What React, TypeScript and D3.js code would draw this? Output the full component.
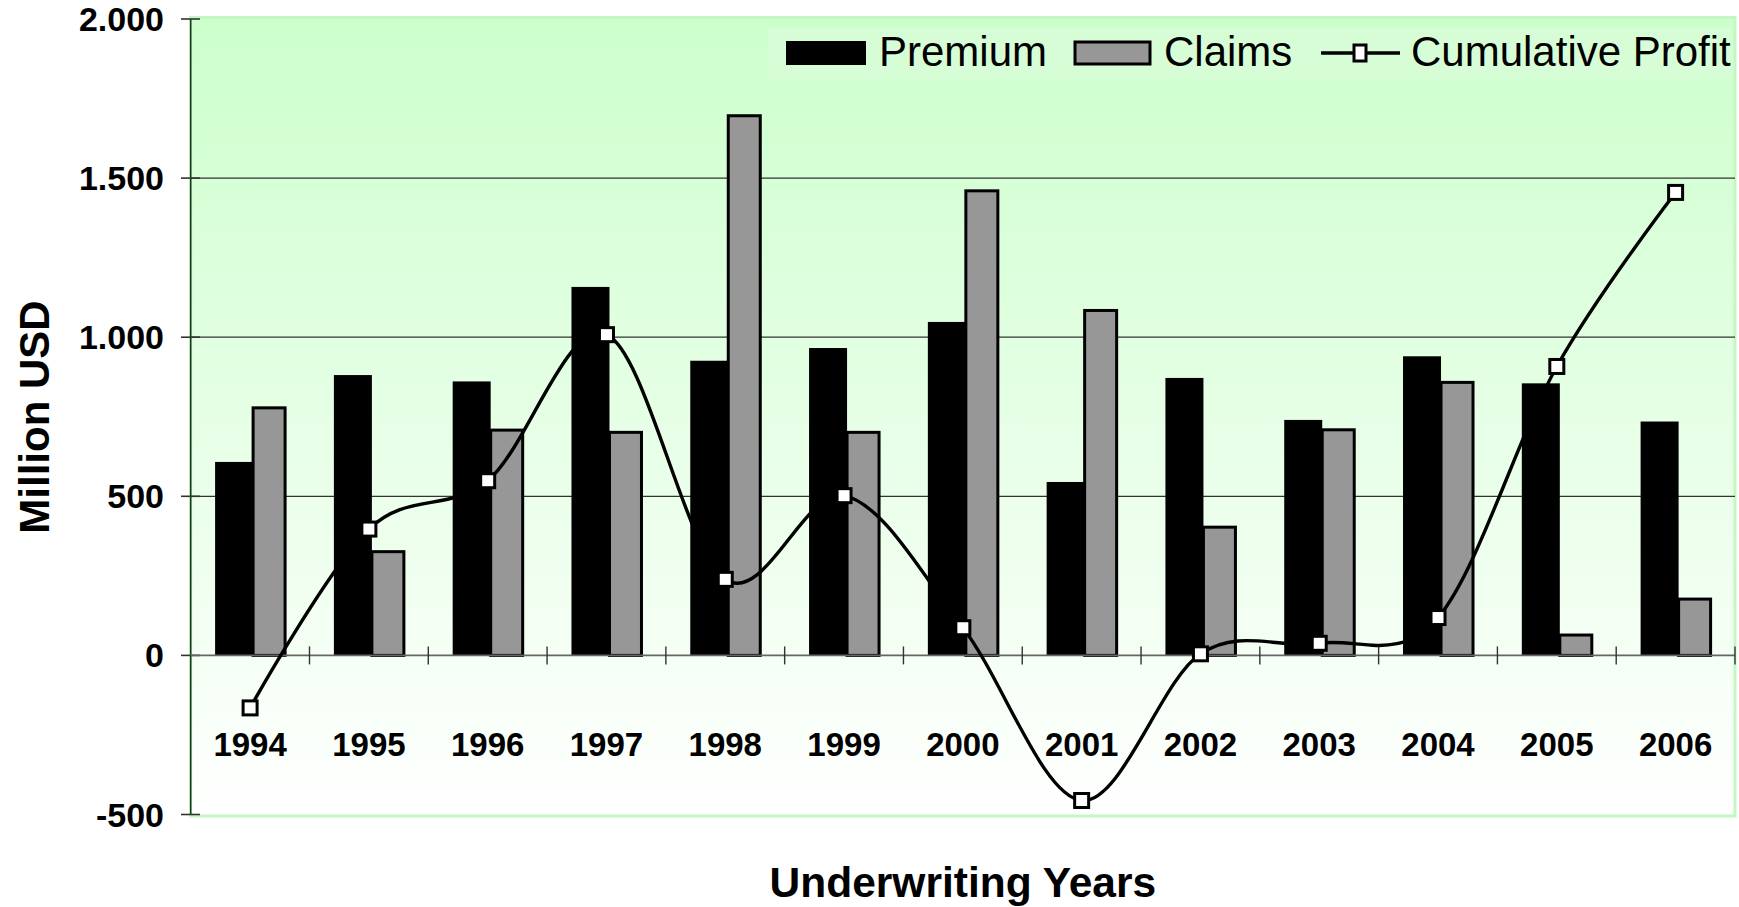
import React from "react";
import * as d3 from "d3";

// Underwriting results per year, in million USD
const years = ["1994", "1995", "1996", "1997", "1998", "1999", "2000", "2001", "2002", "2003", "2004", "2005", "2006"];
const premium = [608, 881, 861, 1158, 926, 966, 1048, 545, 872, 740, 940, 855, 735];
const claims = [778, 326, 708, 701, 1696, 701, 1460, 1084, 403, 709, 858, 64, 177];
const cumulativeProfit = [-165, 397, 549, 1008, 239, 502, 87, -456, 5, 38, 119, 908, 1455];
const yTicks = [-500, 0, 500, 1000, 1500, 2000];
const gridValues = [500, 1000, 1500];

const W = 1739;
const H = 907;
const FONT = "'Liberation Sans', Arial, Helvetica, sans-serif";

// thousands separated with a dot (e.g. 1.500), plain hyphen for negatives
const fmt = (v: number) =>
  d3.format(",")(v).replace(/,/g, ".").replace("\u2212", "-");

export default function App() {
  const plotLeft = 190.7;
  const plotRight = 1735;
  const plotTop = 17.5;
  const plotBottom = 816;

  const x = d3.scaleBand<string>().domain(years).range([plotLeft, plotRight]).padding(0);
  const y = d3.scaleLinear().domain([-500, 2000]).range([814.5, 19]);
  const cx = (yr: string) => (x(yr) as number) + x.bandwidth() / 2;

  const line = d3
    .line<number>()
    .x((_, i) => cx(years[i]))
    .y((d) => y(d))
    .curve(d3.curveCardinal.tension(0));

  const boundaries = years.map((yr) => (x(yr) as number) + x.bandwidth());
  const marker = 14;

  return (
    <svg width={W} height={H} style={{ display: "block", position: "absolute", left: 0, top: 0 }}>
      <defs>
        <linearGradient id="plotBg" x1="0" y1="0" x2="0" y2="1">
          <stop offset="0" stopColor="#ccffcc" />
          <stop offset="1" stopColor="#ffffff" />
        </linearGradient>
      </defs>
      <rect x={0} y={0} width={W} height={H} fill="#ffffff" />

      {/* plot area */}
      <rect
        x={plotLeft}
        y={plotTop}
        width={plotRight - plotLeft}
        height={plotBottom - plotTop}
        fill="url(#plotBg)"
        stroke="#c4f7c4"
        strokeWidth={3}
      />

      {/* gridlines */}
      {gridValues.map((v) => (
        <line key={v} x1={plotLeft} x2={plotRight} y1={y(v)} y2={y(v)} stroke="#333" strokeWidth={1.2} />
      ))}

      {/* value axis */}
      <line x1={plotLeft} x2={plotLeft} y1={y(2000)} y2={y(-500)} stroke="#1a3a1a" strokeWidth={1.6} />
      {yTicks.map((v) => (
        <g key={v}>
          <line x1={181} x2={200} y1={y(v)} y2={y(v)} stroke="#333" strokeWidth={1.6} />
          <text
            x={164}
            y={y(v) + 12}
            textAnchor="end"
            fontFamily={FONT}
            fontWeight="bold"
            fontSize={34}
            fill="#000"
          >
            {fmt(v)}
          </text>
        </g>
      ))}

      {/* bars */}
      {years.map((yr, i) => (
        <g key={yr}>
          <rect
            x={cx(yr) + 3}
            y={y(claims[i])}
            width={32}
            height={y(0) - y(claims[i])}
            fill="#979797"
            stroke="#000"
            strokeWidth={3}
          />
          <rect
            x={cx(yr) - 35}
            y={y(premium[i])}
            width={38}
            height={y(0) - y(premium[i])}
            fill="#000"
          />
        </g>
      ))}

      {/* category axis */}
      <line x1={plotLeft} x2={plotRight} y1={y(0)} y2={y(0)} stroke="#666" strokeWidth={1.6} />
      {boundaries.map((bx, i) => (
        <line key={i} x1={bx} x2={bx} y1={y(0) - 9} y2={y(0) + 9} stroke="#333" strokeWidth={1.4} />
      ))}

      {/* cumulative profit */}
      <path d={line(cumulativeProfit) || ""} fill="none" stroke="#000" strokeWidth={3.4} />
      {cumulativeProfit.map((v, i) => (
        <rect
          key={i}
          x={cx(years[i]) - marker / 2}
          y={y(v) - marker / 2}
          width={marker}
          height={marker}
          fill="#fff"
          stroke="#000"
          strokeWidth={3}
        />
      ))}

      {/* year labels */}
      {years.map((yr) => (
        <text
          key={yr}
          x={cx(yr)}
          y={756}
          textAnchor="middle"
          fontFamily={FONT}
          fontWeight="bold"
          fontSize={33}
          fill="#000"
        >
          {yr}
        </text>
      ))}

      {/* legend */}
      <rect x={768} y={28} width={plotRight - 768 - 2} height={51} fill="#d6fdd6" />
      <rect x={786} y={41} width={80} height={24} fill="#000" />
      <text x={879} y={66} fontFamily={FONT} fontSize={42} fill="#000">
        Premium
      </text>
      <rect x={1075} y={42} width={75} height={22} fill="#979797" stroke="#000" strokeWidth={3} />
      <text x={1164} y={66} fontFamily={FONT} fontSize={42} fill="#000">
        Claims
      </text>
      <line x1={1321} x2={1400} y1={53} y2={53} stroke="#000" strokeWidth={3.4} />
      <rect x={1354} y={45} width={12} height={16} fill="#fff" stroke="#000" strokeWidth={3} />
      <text x={1411} y={66} fontFamily={FONT} fontSize={42} fill="#000">
        Cumulative Profit
      </text>

      {/* axis titles */}
      <text
        transform={`translate(49, 417) rotate(-90)`}
        textAnchor="middle"
        fontFamily={FONT}
        fontWeight="bold"
        fontSize={42}
        fill="#000"
      >
        Million USD
      </text>
      <text
        x={(plotLeft + plotRight) / 2}
        y={897}
        textAnchor="middle"
        fontFamily={FONT}
        fontWeight="bold"
        fontSize={42.5}
        fill="#000"
      >
        Underwriting Years
      </text>
    </svg>
  );
}
